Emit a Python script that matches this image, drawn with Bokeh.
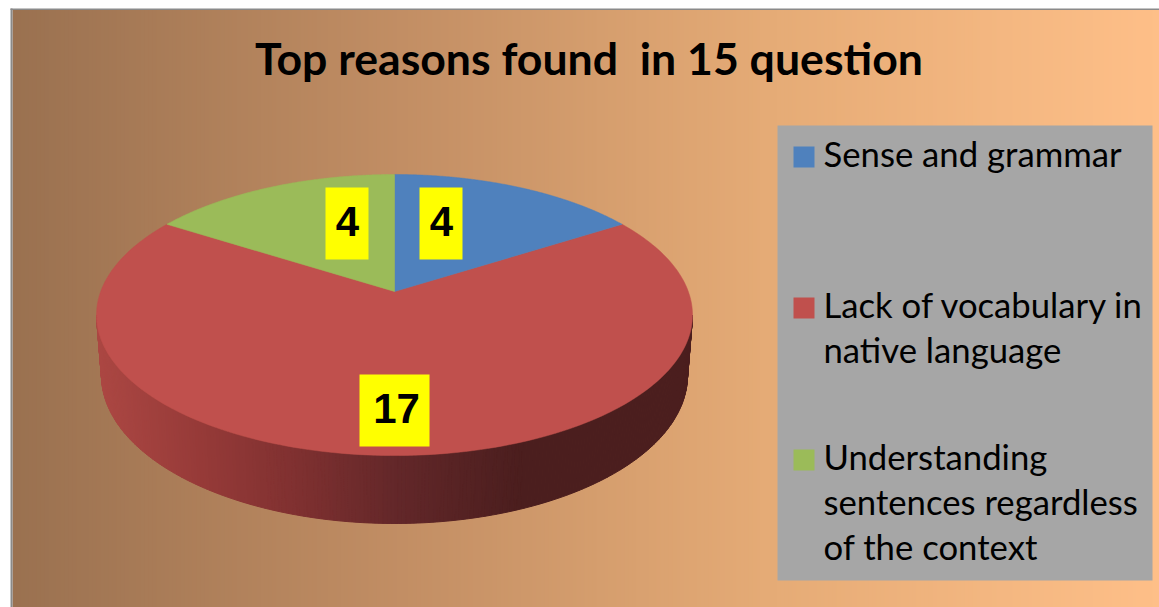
import numpy as np
from bokeh.core.properties import value
from bokeh.embed import file_html
from bokeh.models import Range1d
from bokeh.plotting import figure
from bokeh.resources import INLINE

# Chart content
title_text = "Top reasons found \u00a0in 15 question"
categories = ["Sense and grammar", "Lack of vocabulary in native language",
              "Understanding sentences regardless of the context"]
legend_lines = [["Sense and grammar"],
                ["Lack of vocabulary in", "native language"],
                ["Understanding", "sentences regardless", "of the context"]]
reasons_found = [4, 17, 4]
slice_colors = ["#4F81BD", "#C0504D", "#9BBB59"]

# Layout, in page pixels
W, H = 1159, 607
FRAME_L, FRAME_T = 12, 10
APEX = (394.0, 291.0)
TILT_A, TILT_B, TILT_K = 293.8, 136.6, 0.1673
RIM_TOP = (394.0, 314.5, 298.0, 140.5)
RIM_BOTTOM = (394.0, 375.0, 293.0, 148.0)
LABEL_BOXES = [(419, 462, 187, 259, 238, 441), (359, 429, 374, 446, 425, 396), (325, 368, 187, 259, 238, 347)]
# The SVG text baseline lands this fraction of the font size below the requested y
BASELINE_SHIFT = 0.4

p = figure(width=W, height=H, x_range=Range1d(0, W), y_range=Range1d(H, 0),
           output_backend="svg", toolbar_location=None, min_border=0,
           background_fill_color="white", border_fill_color="white", outline_line_color=None)
p.axis.visible = False
p.grid.visible = False


def lerp_stops(x, stops):
    xs = [s[0] for s in stops]
    return tuple(int(round(np.interp(x, xs, [s[1][i] for s in stops]))) for i in range(3))


def hexa(c):
    return "#%02x%02x%02x" % c


def label(x, y, text, font, size, style="normal", align="left"):
    p.text(x=[x], y=[y - BASELINE_SHIFT * size], text=[text], text_font=value(font), text_font_style=style,
           text_font_size=f"{size}px", text_align=align, text_baseline="alphabetic", text_color="black")


# Chart area: horizontal tan-to-peach gradient; each band runs to the right edge and is
# overpainted by the next, which keeps the bands free of seams
bg_stops = [(12, (154, 113, 80)), (400, (194, 142, 100)), (765, (229, 171, 118)), (1159, (254, 191, 136))]
edges = np.arange(FRAME_L, W, 4)
p.quad(left=edges, right=W, top=FRAME_T - 1, bottom=H,
       fill_color=[hexa(lerp_stops(x, bg_stops)) for x in edges], line_color=None)
p.quad(left=[10, 10], right=[12, W], top=[8, 8], bottom=[H, 9.5], fill_color="#8a8a8a", line_color=None)

# Side wall of the disc, shaded strip by strip from left to right
side_stops = [(97, (172, 71, 67)), (200, (150, 58, 56)), (300, (126, 48, 48)),
              (400, (98, 39, 41)), (520, (75, 30, 30)), (692, (75, 30, 30))]
t = np.radians(np.linspace(180, 0, 241))
tx = RIM_TOP[0] + RIM_TOP[2] * np.cos(t)
ty = RIM_TOP[1] + RIM_TOP[3] * np.sin(t)
bx = RIM_BOTTOM[0] + RIM_BOTTOM[2] * np.cos(t)
by = RIM_BOTTOM[1] + RIM_BOTTOM[3] * np.sin(t)
xs, ys, cols = [], [], []
for i in range(len(t) - 1):
    xs.append([tx[i], tx[i + 1], bx[i + 1], bx[i]])
    ys.append([ty[i], ty[i + 1], by[i + 1], by[i]])
    cols.append(hexa(lerp_stops((tx[i] + tx[i + 1]) / 2, side_stops)))
p.patches(xs, ys, fill_color=cols, line_color=cols, line_width=1)


def disc_point(theta):
    """Angle clockwise from twelve o'clock to a point on the tilted top face."""
    u, v = np.sin(theta), np.cos(theta)
    w = 1 + TILT_K * v
    return APEX[0] + TILT_A * u / w, APEX[1] - TILT_B * v / w


# Top face: one wedge per reason, red underneath so the joins stay clean
total = sum(reasons_found)
shares = np.cumsum([0] + reasons_found) / total * 2 * np.pi
for k in [1, 0, 2]:
    th = np.linspace(shares[k], shares[k + 1], 200)
    px, py = disc_point(th)
    p.patch(np.r_[APEX[0], px], np.r_[APEX[1], py], fill_color=slice_colors[k],
            line_color=slice_colors[k], line_width=0.5)

# Value labels on yellow boxes
for val, (x0, x1, y0, y1, base, tx_c) in zip(reasons_found, LABEL_BOXES):
    p.quad(left=x0, right=x1, top=y0, bottom=y1, fill_color="#FFFF00", line_color=None)
    label(tx_c, base, str(val), "Liberation Sans", 42, "bold", "center")

# Title
label(588.5, 75, title_text, "Lato", 44.6, "bold", "center")

# Legend panel
p.quad(left=777, right=1152, top=125, bottom=580, fill_color="#A6A6A6", line_color=None)
first_baselines = [167, 318, 470]
for lines, base, col in zip(legend_lines, first_baselines, slice_colors):
    p.quad(left=793, right=814, top=base - 21, bottom=base, fill_color=col, line_color=None)
    for j, line in enumerate(lines):
        label(823, base + j * 45, line, "Lato", 34.7)

open("out.html", "w").write(file_html(p, INLINE))
